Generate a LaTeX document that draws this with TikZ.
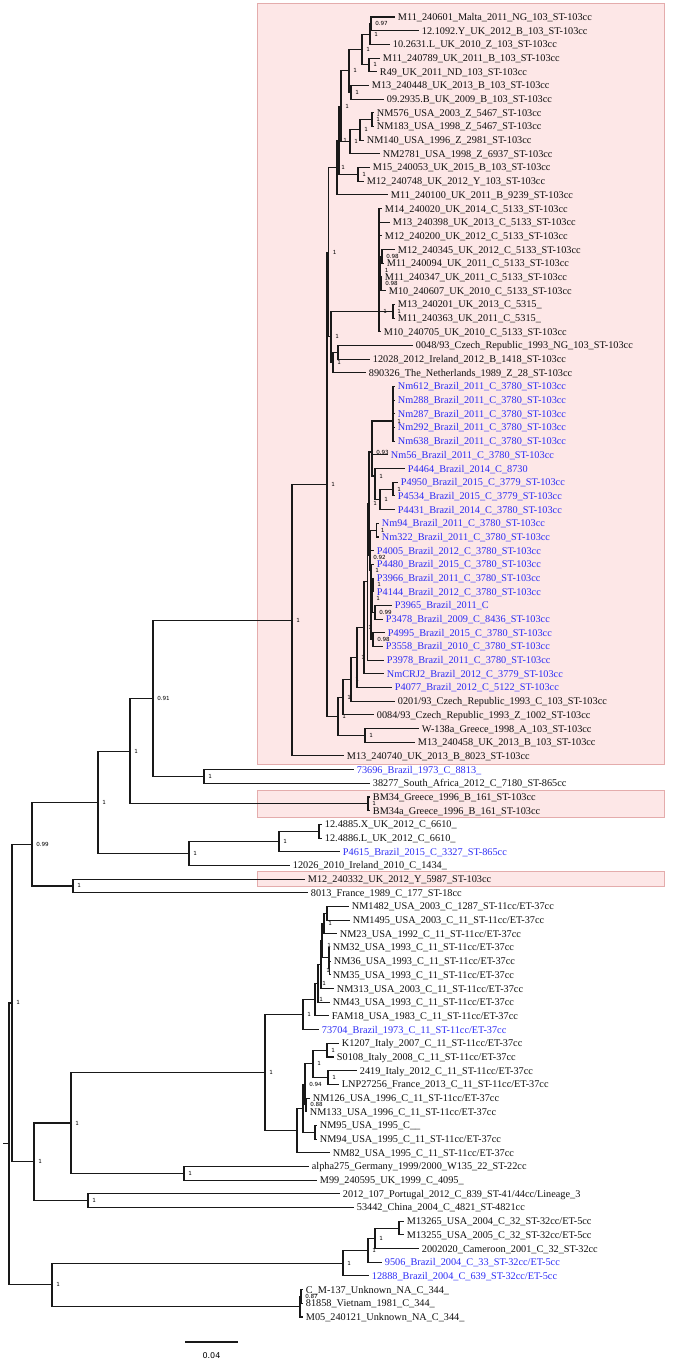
\documentclass[tikz,border=0pt]{standalone}
\usepackage{fontspec}
\setmainfont{Liberation Serif}
\newfontfamily\supfont{DejaVu Sans}
\definecolor{tipblue}{RGB}{45,45,245}
\definecolor{tipblack}{RGB}{15,15,15}
\definecolor{boxfill}{RGB}{253,231,231}
\definecolor{boxline}{RGB}{228,172,172}
\definecolor{branchcol}{RGB}{25,25,25}
\newcommand{\tleaf}[5]{\node[leaf,#4] (#1) at (#2,#3) {#5};}
\newcommand{\tnode}[4]{\coordinate (#1) at (#2,#3);\node[sup] (#1-s) at (#1) {#4};}
\newcommand{\tnodeq}[3]{\coordinate (#1) at (#2,#3);}
\newcommand{\tnodel}[6]{\coordinate (#1) at (#2,#3);\node[supa] (#1-s) at (#5,#6) {#4};}
\newcommand{\tbr}[2]{\draw[branch] (#1) |- (#2);}
\begin{document}
\begin{tikzpicture}[x=0.75pt,y=-0.75pt,
  branch/.style={draw=branchcol,line width=0.85pt},
  leaf/.style={anchor=west,inner xsep=2pt,inner ysep=0pt,font=\fontsize{7.7}{8.5}\selectfont,text height=5.6pt,text depth=0.5pt},
  blk/.style={text=tipblack},
  blu/.style={text=tipblue},
  sup/.style={anchor=west,inner sep=0pt,xshift=3pt,font=\supfont\fontsize{4.2}{4.2}\selectfont,text height=3pt,text depth=0pt},
  supa/.style={anchor=west,inner sep=0pt,font=\supfont\fontsize{4.2}{4.2}\selectfont,text height=3pt,text depth=0pt},
  hibox/.style={fill=boxfill,draw=boxline,line width=0.5pt},
  scalelbl/.style={inner sep=0pt,font=\supfont\fontsize{6}{6}\selectfont}]
\useasboundingbox (0,0) rectangle (675,1361);
% highlight boxes
\path[hibox] (257,3) rectangle (664,764);
\path[hibox] (257,790) rectangle (664,817);
\path[hibox] (257,871) rectangle (664,886);
% leaves
\tleaf{l1}{395}{17.0}{blk}{M11\_240601\_Malta\_2011\_NG\_103\_ST-103cc}
\tleaf{l2}{419}{30.7}{blk}{12.1092.Y\_UK\_2012\_B\_103\_ST-103cc}
\tleaf{l3}{390}{44.4}{blk}{10.2631.L\_UK\_2010\_Z\_103\_ST-103cc}
\tleaf{l4}{380}{58.1}{blk}{M11\_240789\_UK\_2011\_B\_103\_ST-103cc}
\tleaf{l5}{377}{71.7}{blk}{R49\_UK\_2011\_ND\_103\_ST-103cc}
\tleaf{l6}{369}{85.4}{blk}{M13\_240448\_UK\_2013\_B\_103\_ST-103cc}
\tleaf{l7}{384}{99.1}{blk}{09.2935.B\_UK\_2009\_B\_103\_ST-103cc}
\tleaf{l8}{374}{112.8}{blk}{NM576\_USA\_2003\_Z\_5467\_ST-103cc}
\tleaf{l9}{374}{126.5}{blk}{NM183\_USA\_1998\_Z\_5467\_ST-103cc}
\tleaf{l10}{364}{140.2}{blk}{NM140\_USA\_1996\_Z\_2981\_ST-103cc}
\tleaf{l11}{380}{153.8}{blk}{NM2781\_USA\_1998\_Z\_6937\_ST-103cc}
\tleaf{l12}{370}{167.5}{blk}{M15\_240053\_UK\_2015\_B\_103\_ST-103cc}
\tleaf{l13}{364}{181.2}{blk}{M12\_240748\_UK\_2012\_Y\_103\_ST-103cc}
\tleaf{l14}{388}{194.9}{blk}{M11\_240100\_UK\_2011\_B\_9239\_ST-103cc}
\tleaf{l15}{382}{208.6}{blk}{M14\_240020\_UK\_2014\_C\_5133\_ST-103cc}
\tleaf{l16}{390}{222.3}{blk}{M13\_240398\_UK\_2013\_C\_5133\_ST-103cc}
\tleaf{l17}{382}{235.9}{blk}{M12\_240200\_UK\_2012\_C\_5133\_ST-103cc}
\tleaf{l18}{395}{249.6}{blk}{M12\_240345\_UK\_2012\_C\_5133\_ST-103cc}
\tleaf{l19}{384}{263.3}{blk}{M11\_240094\_UK\_2011\_C\_5133\_ST-103cc}
\tleaf{l20}{382}{277.0}{blk}{M11\_240347\_UK\_2011\_C\_5133\_ST-103cc}
\tleaf{l21}{386}{290.7}{blk}{M10\_240607\_UK\_2010\_C\_5133\_ST-103cc}
\tleaf{l22}{395}{304.4}{blk}{M13\_240201\_UK\_2013\_C\_5315\_}
\tleaf{l23}{395}{318.1}{blk}{M11\_240363\_UK\_2011\_C\_5315\_}
\tleaf{l24}{381}{331.7}{blk}{M10\_240705\_UK\_2010\_C\_5133\_ST-103cc}
\tleaf{l25}{413}{345.4}{blk}{0048/93\_Czech\_Republic\_1993\_NG\_103\_ST-103cc}
\tleaf{l26}{370}{359.1}{blk}{12028\_2012\_Ireland\_2012\_B\_1418\_ST-103cc}
\tleaf{l27}{366}{372.8}{blk}{890326\_The\_Netherlands\_1989\_Z\_28\_ST-103cc}
\tleaf{l28}{395}{386.5}{blu}{Nm612\_Brazil\_2011\_C\_3780\_ST-103cc}
\tleaf{l29}{395}{400.2}{blu}{Nm288\_Brazil\_2011\_C\_3780\_ST-103cc}
\tleaf{l30}{395}{413.8}{blu}{Nm287\_Brazil\_2011\_C\_3780\_ST-103cc}
\tleaf{l31}{395}{427.5}{blu}{Nm292\_Brazil\_2011\_C\_3780\_ST-103cc}
\tleaf{l32}{395}{441.2}{blu}{Nm638\_Brazil\_2011\_C\_3780\_ST-103cc}
\tleaf{l33}{388}{454.9}{blu}{Nm56\_Brazil\_2011\_C\_3780\_ST-103cc}
\tleaf{l34}{405}{468.6}{blu}{P4464\_Brazil\_2014\_C\_8730}
\tleaf{l35}{398}{482.3}{blu}{P4950\_Brazil\_2015\_C\_3779\_ST-103cc}
\tleaf{l36}{395}{495.9}{blu}{P4534\_Brazil\_2015\_C\_3779\_ST-103cc}
\tleaf{l37}{395}{509.6}{blu}{P4431\_Brazil\_2014\_C\_3780\_ST-103cc}
\tleaf{l38}{379}{523.3}{blu}{Nm94\_Brazil\_2011\_C\_3780\_ST-103cc}
\tleaf{l39}{379}{537.0}{blu}{Nm322\_Brazil\_2011\_C\_3780\_ST-103cc}
\tleaf{l40}{374}{550.7}{blu}{P4005\_Brazil\_2012\_C\_3780\_ST-103cc}
\tleaf{l41}{374}{564.4}{blu}{P4480\_Brazil\_2015\_C\_3780\_ST-103cc}
\tleaf{l42}{374}{578.1}{blu}{P3966\_Brazil\_2011\_C\_3780\_ST-103cc}
\tleaf{l43}{374}{591.7}{blu}{P4144\_Brazil\_2012\_C\_3780\_ST-103cc}
\tleaf{l44}{392}{605.4}{blu}{P3965\_Brazil\_2011\_C}
\tleaf{l45}{383}{619.1}{blu}{P3478\_Brazil\_2009\_C\_8436\_ST-103cc}
\tleaf{l46}{385}{632.8}{blu}{P4995\_Brazil\_2015\_C\_3780\_ST-103cc}
\tleaf{l47}{383}{646.5}{blu}{P3558\_Brazil\_2010\_C\_3780\_ST-103cc}
\tleaf{l48}{384}{660.2}{blu}{P3978\_Brazil\_2011\_C\_3780\_ST-103cc}
\tleaf{l49}{384}{673.8}{blu}{NmCRJ2\_Brazil\_2012\_C\_3779\_ST-103cc}
\tleaf{l50}{392}{687.5}{blu}{P4077\_Brazil\_2012\_C\_5122\_ST-103cc}
\tleaf{l51}{395}{701.2}{blk}{0201/93\_Czech\_Republic\_1993\_C\_103\_ST-103cc}
\tleaf{l52}{374}{714.9}{blk}{0084/93\_Czech\_Republic\_1993\_Z\_1002\_ST-103cc}
\tleaf{l53}{419}{728.6}{blk}{W-138a\_Greece\_1998\_A\_103\_ST-103cc}
\tleaf{l54}{415}{742.3}{blk}{M13\_240458\_UK\_2013\_B\_103\_ST-103cc}
\tleaf{l55}{344}{755.9}{blk}{M13\_240740\_UK\_2013\_B\_8023\_ST-103cc}
\tleaf{l56}{354}{769.6}{blu}{73696\_Brazil\_1973\_C\_8813\_}
\tleaf{l57}{370}{783.3}{blk}{38277\_South\_Africa\_2012\_C\_7180\_ST-865cc}
\tleaf{l58}{370}{797.0}{blk}{BM34\_Greece\_1996\_B\_161\_ST-103cc}
\tleaf{l59}{370}{810.7}{blk}{BM34a\_Greece\_1996\_B\_161\_ST-103cc}
\tleaf{l60}{322}{824.4}{blk}{12.4885.X\_UK\_2012\_C\_6610\_}
\tleaf{l61}{322}{838.1}{blk}{12.4886.L\_UK\_2012\_C\_6610\_}
\tleaf{l62}{340}{851.7}{blu}{P4615\_Brazil\_2015\_C\_3327\_ST-865cc}
\tleaf{l63}{290}{865.4}{blk}{12026\_2010\_Ireland\_2010\_C\_1434\_}
\tleaf{l64}{305}{879.1}{blk}{M12\_240332\_UK\_2012\_Y\_5987\_ST-103cc}
\tleaf{l65}{308}{892.8}{blk}{8013\_France\_1989\_C\_177\_ST-18cc}
\tleaf{l66}{349}{906.5}{blk}{NM1482\_USA\_2003\_C\_1287\_ST-11cc/ET-37cc}
\tleaf{l67}{350}{920.2}{blk}{NM1495\_USA\_2003\_C\_11\_ST-11cc/ET-37cc}
\tleaf{l68}{337}{933.8}{blk}{NM23\_USA\_1992\_C\_11\_ST-11cc/ET-37cc}
\tleaf{l69}{330}{947.5}{blk}{NM32\_USA\_1993\_C\_11\_ST-11cc/ET-37cc}
\tleaf{l70}{331}{961.2}{blk}{NM36\_USA\_1993\_C\_11\_ST-11cc/ET-37cc}
\tleaf{l71}{330}{974.9}{blk}{NM35\_USA\_1993\_C\_11\_ST-11cc/ET-37cc}
\tleaf{l72}{334}{988.6}{blk}{NM313\_USA\_2003\_C\_11\_ST-11cc/ET-37cc}
\tleaf{l73}{330}{1002.3}{blk}{NM43\_USA\_1993\_C\_11\_ST-11cc/ET-37cc}
\tleaf{l74}{329}{1015.9}{blk}{FAM18\_USA\_1983\_C\_11\_ST-11cc/ET-37cc}
\tleaf{l75}{319}{1029.6}{blu}{73704\_Brazil\_1973\_C\_11\_ST-11cc/ET-37cc}
\tleaf{l76}{339}{1043.3}{blk}{K1207\_Italy\_2007\_C\_11\_ST-11cc/ET-37cc}
\tleaf{l77}{334}{1057.0}{blk}{S0108\_Italy\_2008\_C\_11\_ST-11cc/ET-37cc}
\tleaf{l78}{357}{1070.7}{blk}{2419\_Italy\_2012\_C\_11\_ST-11cc/ET-37cc}
\tleaf{l79}{339}{1084.4}{blk}{LNP27256\_France\_2013\_C\_11\_ST-11cc/ET-37cc}
\tleaf{l80}{310}{1098.1}{blk}{NM126\_USA\_1996\_C\_11\_ST-11cc/ET-37cc}
\tleaf{l81}{307}{1111.7}{blk}{NM133\_USA\_1996\_C\_11\_ST-11cc/ET-37cc}
\tleaf{l82}{317}{1125.4}{blk}{NM95\_USA\_1995\_C\_\_}
\tleaf{l83}{317}{1139.1}{blk}{NM94\_USA\_1995\_C\_11\_ST-11cc/ET-37cc}
\tleaf{l84}{330}{1152.8}{blk}{NM82\_USA\_1995\_C\_11\_ST-11cc/ET-37cc}
\tleaf{l85}{309}{1166.5}{blk}{alpha275\_Germany\_1999/2000\_W135\_22\_ST-22cc}
\tleaf{l86}{317}{1180.2}{blk}{M99\_240595\_UK\_1999\_C\_4095\_}
\tleaf{l87}{340}{1193.8}{blk}{2012\_107\_Portugal\_2012\_C\_839\_ST-41/44cc/Lineage\_3}
\tleaf{l88}{354}{1207.5}{blk}{53442\_China\_2004\_C\_4821\_ST-4821cc}
\tleaf{l89}{404}{1221.2}{blk}{M13265\_USA\_2004\_C\_32\_ST-32cc/ET-5cc}
\tleaf{l90}{404}{1234.9}{blk}{M13255\_USA\_2005\_C\_32\_ST-32cc/ET-5cc}
\tleaf{l91}{419}{1248.6}{blk}{2002020\_Cameroon\_2001\_C\_32\_ST-32cc}
\tleaf{l92}{382}{1262.3}{blu}{9506\_Brazil\_2004\_C\_33\_ST-32cc/ET-5cc}
\tleaf{l93}{369}{1275.9}{blu}{12888\_Brazil\_2004\_C\_639\_ST-32cc/ET-5cc}
\tleaf{l94}{303}{1289.6}{blk}{C\_M-137\_Unknown\_NA\_C\_344\_}
\tleaf{l95}{303}{1303.3}{blk}{81858\_Vietnam\_1981\_C\_344\_}
\tleaf{l96}{303}{1317.0}{blk}{M05\_240121\_Unknown\_NA\_C\_344\_}
% internal nodes
\tnode{a1}{371}{23.85}{0.97}
\tnode{a2}{370}{34.1}{1}
\tnode{a3}{369}{64.9}{1}
\tnode{a4}{362}{49.5}{1}
\tnode{a5}{351}{92.25}{1}
\tnode{a6}{349}{70.9}{1}
\tnode{a7}{372}{119.65}{1}
\tnode{a8}{360}{129.9}{1}
\tnode{a9}{350}{141.9}{1}
\tnode{a10}{358}{174.35}{1}
\tnode{a12}{341}{106.4}{1}
\tnode{a13}{339}{140.4}{1}
\tnode{a14}{337}{167.6}{1}
\tnode{k0}{382}{256.45}{0.98}
\tnode{k1}{381}{283.85}{0.98}
\tnode{k2}{380.5}{270.15}{1}
\tnode{cc}{393}{311.25}{1}
\tnode{K}{379}{311.25}{1}
\tnodeq{S1}{338}{352.25}
\tnode{S2}{333}{362.5}{1}
\tnode{U2}{331}{336.9}{1}
\tnode{U1}{328.5}{252.25}{1}
\tnode{zp}{393}{421}{1}
\tnode{pb}{393}{489.1}{1}
\tnode{pc}{380}{499.35}{1}
\tnode{pd}{375}{476}{1}
\tnode{z3}{372}{452}{0.93}
\tnode{ncb}{376.5}{530.15}{1}
\tnode{t583}{373}{584.9}{1}
\tnode{c1}{375}{612.25}{0.99}
\tnode{t597}{372}{598.6}{1}
\tnode{c2}{373}{639.65}{0.98}
\tnode{tc}{371}{570}{1}
\tnodel{tb}{370}{555}{0.92}{373}{557.5}
\tnode{V7}{369}{503.5}{1}
\tnodeq{V6}{367.5}{581.85}
\tnode{V5}{364}{627.8}{1}
\tnode{V4}{357}{657.65}{1}
\tnode{V3}{351}{679.4}{1}
\tnode{V2}{343}{697.15}{1}
\tnode{Wc}{365}{735.45}{1}
\tnode{V}{338}{716.3}{1}
\tnode{N16}{327}{484.3}{1}
\tnode{N15}{292}{620.1}{1}
\tnode{N14}{204}{776.45}{1}
\tnode{N13}{153}{698.3}{0.91}
\tnode{BMc}{368}{803.85}{1}
\tnode{N12}{130}{751.1}{1}
\tnodeq{ch12}{319}{831.25}
\tnode{N11}{279}{841.5}{1}
\tnode{N10}{189}{853.45}{1}
\tnode{N9}{98}{802.3}{1}
\tnode{N8}{73}{885.95}{1}
\tnode{N2}{32}{844.1}{0.99}
\tnodeq{R1}{327}{913.35}
\tnode{R2}{324}{923.6}{1}
\tnodel{R3}{329.5}{968.05}{1}{326}{970.5}
\tnodel{R4}{329}{957.8}{1}{327}{945}
\tnodeq{A}{322}{940.7}
\tnodeq{B}{321}{964.65}
\tnode{C}{318}{983.5}{1}
\tnode{D}{315}{999.7}{1}
\tnode{E}{303}{1014.65}{1}
\tnode{Q1}{327}{1050.15}{1}
\tnode{Q2}{328}{1077.55}{1}
\tnode{Q3}{313}{1063.85}{1}
\tnode{Q5}{306}{1104.9}{0.88}
\tnode{Q4}{305}{1084.4}{0.94}
\tnodeq{Q6}{315}{1132.25}
\tnodeq{Q7}{303}{1108.3}
\tnodeq{Q8}{297}{1130.55}
\tnode{N7}{265}{1072.6}{1}
\tnode{N6}{184}{1173.35}{1}
\tnode{N5}{71}{1123}{1}
\tnode{N4}{88}{1200.65}{1}
\tnode{N3}{34}{1161.8}{1}
\tnode{N1}{12}{1002.95}{1}
\tnodeq{P1}{399}{1228.05}
\tnode{P2}{375}{1238.3}{1}
\tnode{P3}{368}{1250.3}{1}
\tnode{P4}{343}{1263.1}{1}
\tnode{cs}{301}{1296.45}{0.87}
\tnodeq{S344}{300}{1306.7}
\tnode{M32}{52}{1284.9}{1}
\tnodeq{root}{9}{1143.9}
\coordinate (rootstub) at (3,1143.9);
% branches
\draw[branch] (rootstub) -- (root);
\tbr{root}{N1}\tbr{root}{M32}
\tbr{N1}{N2}\tbr{N1}{N3}
\tbr{N2}{N9}\tbr{N2}{N8}
\tbr{N8}{l64.west}\tbr{N8}{l65.west}
\tbr{N9}{N12}\tbr{N9}{N10}
\tbr{N10}{N11}\tbr{N10}{l63.west}
\tbr{N11}{ch12}\tbr{N11}{l62.west}
\tbr{ch12}{l60.west}\tbr{ch12}{l61.west}
\tbr{N12}{N13}\tbr{N12}{BMc}
\tbr{BMc}{l58.west}\tbr{BMc}{l59.west}
\tbr{N13}{N15}\tbr{N13}{N14}
\tbr{N14}{l56.west}\tbr{N14}{l57.west}
\tbr{N15}{N16}\tbr{N15}{l55.west}
\tbr{N16}{U1}\tbr{N16}{V}
\tbr{U1}{a14}\tbr{U1}{U2}
\tbr{a14}{a13}\tbr{a14}{l14.west}
\tbr{a13}{a12}\tbr{a13}{a10}
\tbr{a12}{a6}\tbr{a12}{a9}
\tbr{a6}{a4}\tbr{a6}{a5}
\tbr{a4}{a2}\tbr{a4}{a3}
\tbr{a2}{a1}\tbr{a2}{l3.west}
\tbr{a1}{l1.west}\tbr{a1}{l2.west}
\tbr{a3}{l4.west}\tbr{a3}{l5.west}
\tbr{a5}{l6.west}\tbr{a5}{l7.west}
\tbr{a9}{a8}\tbr{a9}{l11.west}
\tbr{a8}{a7}\tbr{a8}{l10.west}
\tbr{a7}{l8.west}\tbr{a7}{l9.west}
\tbr{a10}{l12.west}\tbr{a10}{l13.west}
\tbr{U2}{K}\tbr{U2}{S2}
\tbr{K}{l15.west}\tbr{K}{l16.west}\tbr{K}{l17.west}\tbr{K}{k2}\tbr{K}{cc}\tbr{K}{l24.west}
\tbr{k2}{k0}\tbr{k2}{k1}
\tbr{k0}{l18.west}\tbr{k0}{l19.west}
\tbr{k1}{l20.west}\tbr{k1}{l21.west}
\tbr{cc}{l22.west}\tbr{cc}{l23.west}
\tbr{S2}{S1}\tbr{S2}{l27.west}
\tbr{S1}{l25.west}\tbr{S1}{l26.west}
\tbr{V}{V2}\tbr{V}{Wc}
\tbr{Wc}{l53.west}\tbr{Wc}{l54.west}
\tbr{V2}{V3}\tbr{V2}{l52.west}
\tbr{V3}{V4}\tbr{V3}{l51.west}
\tbr{V4}{V5}\tbr{V4}{l50.west}
\tbr{V5}{V6}\tbr{V5}{l49.west}
\tbr{V6}{V7}\tbr{V6}{l48.west}
\tbr{V7}{z3}\tbr{V7}{tb}
\tbr{z3}{zp}\tbr{z3}{l33.west}\tbr{z3}{pd}
\tbr{zp}{l28.west}\tbr{zp}{l29.west}\tbr{zp}{l30.west}\tbr{zp}{l31.west}\tbr{zp}{l32.west}
\tbr{pd}{l34.west}\tbr{pd}{pc}
\tbr{pc}{pb}\tbr{pc}{l37.west}
\tbr{pb}{l35.west}\tbr{pb}{l36.west}
\tbr{tb}{ncb}\tbr{tb}{l40.west}\tbr{tb}{tc}
\tbr{ncb}{l38.west}\tbr{ncb}{l39.west}
\tbr{tc}{l41.west}\tbr{tc}{t597}\tbr{tc}{c2}
\tbr{t597}{t583}\tbr{t597}{c1}
\tbr{t583}{l42.west}\tbr{t583}{l43.west}
\tbr{c1}{l44.west}\tbr{c1}{l45.west}
\tbr{c2}{l46.west}\tbr{c2}{l47.west}
\tbr{N3}{N5}\tbr{N3}{N4}
\tbr{N4}{l87.west}\tbr{N4}{l88.west}
\tbr{N5}{N7}\tbr{N5}{N6}
\tbr{N6}{l85.west}\tbr{N6}{l86.west}
\tbr{N7}{E}\tbr{N7}{Q8}
\tbr{E}{D}\tbr{E}{l75.west}
\tbr{D}{C}\tbr{D}{l74.west}
\tbr{C}{B}\tbr{C}{l73.west}
\tbr{B}{A}\tbr{B}{l72.west}
\tbr{A}{R2}\tbr{A}{R4}
\tbr{R2}{R1}\tbr{R2}{l68.west}
\tbr{R1}{l66.west}\tbr{R1}{l67.west}
\tbr{R4}{l69.west}\tbr{R4}{R3}
\tbr{R3}{l70.west}\tbr{R3}{l71.west}
\tbr{Q8}{Q7}\tbr{Q8}{l84.west}
\tbr{Q7}{Q4}\tbr{Q7}{Q6}
\tbr{Q4}{Q3}\tbr{Q4}{Q5}
\tbr{Q3}{Q1}\tbr{Q3}{Q2}
\tbr{Q1}{l76.west}\tbr{Q1}{l77.west}
\tbr{Q2}{l78.west}\tbr{Q2}{l79.west}
\tbr{Q5}{l80.west}\tbr{Q5}{l81.west}
\tbr{Q6}{l82.west}\tbr{Q6}{l83.west}
\tbr{M32}{P4}\tbr{M32}{S344}
\tbr{P4}{P3}\tbr{P4}{l93.west}
\tbr{P3}{P2}\tbr{P3}{l92.west}
\tbr{P2}{P1}\tbr{P2}{l91.west}
\tbr{P1}{l89.west}\tbr{P1}{l90.west}
\tbr{S344}{cs}\tbr{S344}{l96.west}
\tbr{cs}{l94.west}\tbr{cs}{l95.west}
% scale bar
\coordinate (sb1) at (185,1342);
\coordinate (sb2) at (238,1342);
\draw[branch] (sb1) -- (sb2);
\node[scalelbl] (sbl) at (211.5,1356) {0.04};
\end{tikzpicture}
\end{document}
